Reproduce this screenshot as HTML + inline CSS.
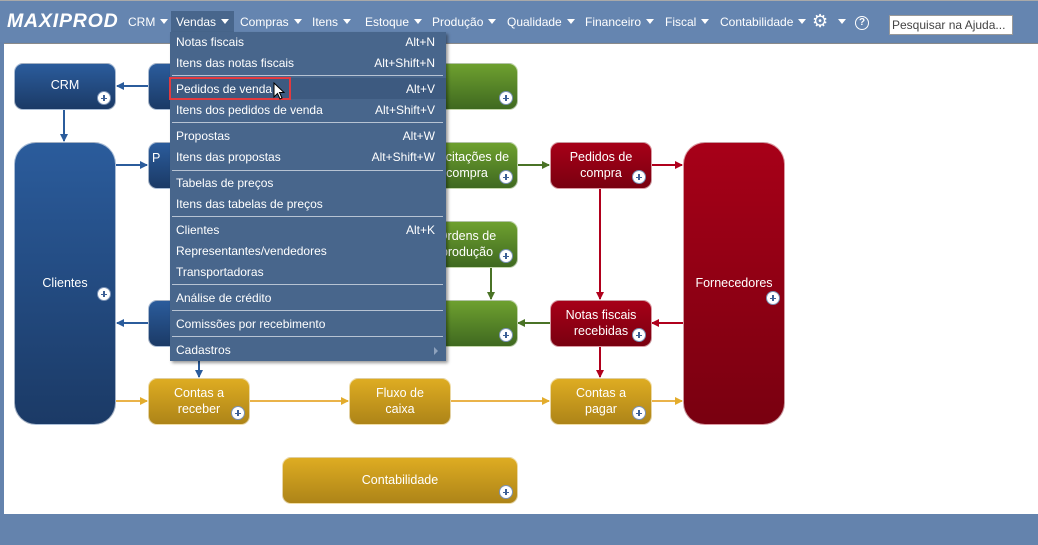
<!DOCTYPE html>
<html><head><meta charset="utf-8"><style>
*{margin:0;padding:0;box-sizing:border-box}
body{width:1038px;height:545px;background:#6483ad;position:relative;overflow:hidden;font-family:"Liberation Sans",sans-serif}
#top{position:absolute;left:0;top:0;width:1038px;height:42px;background:#6585b0;border-top:1px solid #a9a9a9}
#content{position:absolute;left:4px;top:43px;width:1034px;height:471px;background:#fff;border-top:1px solid #8a8a8a}
.logo{position:absolute;left:7px;top:9px;color:#fff;font:italic bold 19.5px "Liberation Sans",sans-serif;letter-spacing:0.8px}
.mi{position:absolute;top:14px;color:#fff;font-size:12px;white-space:nowrap}
.tri{display:inline-block;width:0;height:0;border-left:4px solid transparent;border-right:4px solid transparent;border-top:5px solid #fff;margin-left:5px;vertical-align:2px}
.vsel{position:absolute;left:171px;top:10px;width:63px;height:22px;background:#48668c}
.search{position:absolute;left:889px;top:14px;width:124px;height:20px;background:#fff;border:1px solid #999;font-size:12px;color:#444;padding:2px 2px}
.box{position:absolute;border-radius:9px;color:#fff;font-size:12.5px;text-align:center;line-height:16px;display:flex;align-items:center;justify-content:center;border:1px solid rgba(255,255,255,.6);padding-bottom:2px}
.b{background:linear-gradient(#2b5c9c,#1b3a66)}
.g{background:linear-gradient(#6ea02f,#3f6920)}
.r{background:linear-gradient(#a70018,#790010)}
.y{background:linear-gradient(#deac22,#ad8418)}
.p{position:absolute;width:14px;height:14px;border-radius:50%;background:#fff;border:1px solid #7b93b7}
.p:before{content:"";position:absolute;left:3px;top:5.5px;width:6px;height:1.6px;background:#3c5f95}
.p:after{content:"";position:absolute;left:5.2px;top:3px;width:1.6px;height:6px;background:#3c5f95}
#menu{position:absolute;left:170px;top:32px;width:276px;height:329px;background:#48668c;box-shadow:2px 2px 3px rgba(0,0,0,.4);font-size:12px;color:#fff}
.it{position:absolute;left:6px;white-space:nowrap;margin-top:-1px}
.sc{position:absolute;right:11px;white-space:nowrap;margin-top:-1px}
.sep{position:absolute;left:2px;width:271px;height:1px;background:#b7c3d3}
</style></head><body>
<div id="top">
<div class="logo">MAXIPROD</div>
<div class="vsel"></div>
<div class="mi" style="left:128px">CRM<span class="tri"></span></div>
<div class="mi" style="left:176px">Vendas<span class="tri"></span></div>
<div class="mi" style="left:240px">Compras<span class="tri"></span></div>
<div class="mi" style="left:312px">Itens<span class="tri"></span></div>
<div class="mi" style="left:365px">Estoque<span class="tri"></span></div>
<div class="mi" style="left:432px">Produção<span class="tri"></span></div>
<div class="mi" style="left:507px">Qualidade<span class="tri"></span></div>
<div class="mi" style="left:585px">Financeiro<span class="tri"></span></div>
<div class="mi" style="left:665px">Fiscal<span class="tri"></span></div>
<div class="mi" style="left:720px">Contabilidade<span class="tri"></span></div>
<div class="mi" style="left:812px;top:10px;font-size:18px">⚙</div>
<div class="mi" style="left:833px"><span class="tri"></span></div>
<div style="position:absolute;left:855px;top:15px;width:14px;height:14px;border:1.5px solid #fff;border-radius:50%;color:#fff;font-size:10px;font-weight:bold;text-align:center;line-height:11px">?</div>
<div class="search">Pesquisar na Ajuda...</div>
</div>
<div id="content"></div>
<svg style="position:absolute;left:0;top:0" width="1038" height="545">
<defs>
<marker id="ab" markerWidth="8" markerHeight="8" refX="7" refY="4" orient="auto" markerUnits="userSpaceOnUse"><path d="M0,0L8,4L0,8z" fill="#2b5c9c"/></marker>
<marker id="ag" markerWidth="8" markerHeight="8" refX="7" refY="4" orient="auto" markerUnits="userSpaceOnUse"><path d="M0,0L8,4L0,8z" fill="#4a7326"/></marker>
<marker id="ar" markerWidth="8" markerHeight="8" refX="7" refY="4" orient="auto" markerUnits="userSpaceOnUse"><path d="M0,0L8,4L0,8z" fill="#b0001c"/></marker>
<marker id="ay" markerWidth="8" markerHeight="8" refX="7" refY="4" orient="auto" markerUnits="userSpaceOnUse"><path d="M0,0L8,4L0,8z" fill="#e3ac2c"/></marker>
</defs>
<g stroke-width="2" fill="none">
<path d="M148,86H117" stroke="#2b5c9c" marker-end="url(#ab)"/>
<path d="M64,109V141" stroke="#2b5c9c" marker-end="url(#ab)"/>
<path d="M116,165H147" stroke="#2b5c9c" marker-end="url(#ab)"/>
<path d="M148,323H117" stroke="#2b5c9c" marker-end="url(#ab)"/>
<path d="M199,346V377" stroke="#2b5c9c" marker-end="url(#ab)"/>
<path d="M517,165H549" stroke="#4a7326" marker-end="url(#ag)"/>
<path d="M491,267V299" stroke="#4a7326" marker-end="url(#ag)"/>
<path d="M550,323H518" stroke="#4a7326" marker-end="url(#ag)"/>
<path d="M651,165H682" stroke="#b0001c" marker-end="url(#ar)"/>
<path d="M600,188V299" stroke="#b0001c" marker-end="url(#ar)"/>
<path d="M683,323H652" stroke="#b0001c" marker-end="url(#ar)"/>
<path d="M600,346V377" stroke="#b0001c" marker-end="url(#ar)"/>
<path d="M116,401H147" stroke="#eab34a" marker-end="url(#ay)"/>
<path d="M250,401H348" stroke="#eab34a" marker-end="url(#ay)"/>
<path d="M451,401H549" stroke="#eab34a" marker-end="url(#ay)"/>
<path d="M651,401H682" stroke="#eab34a" marker-end="url(#ay)"/>
</g></svg>
<div class="box b" style="left:14px;top:63px;width:102px;height:47px;padding-bottom:4px">CRM</div><div class="p" style="left:97px;top:91px"></div>
<div class="box b" style="left:148px;top:63px;width:102px;height:47px"></div>
<div class="box g" style="left:416px;top:63px;width:102px;height:47px"></div><div class="p" style="left:499px;top:91px"></div>
<div class="box b" style="left:14px;top:142px;width:102px;height:283px;border-radius:22px">Clientes</div><div class="p" style="left:97px;top:287px"></div>
<div class="box b" style="left:148px;top:142px;width:102px;height:47px;justify-content:flex-start;padding-left:3px;align-items:flex-start;padding-top:7px">P</div>
<div class="box g" style="left:416px;top:142px;width:102px;height:47px">Solicitações de<br>compra</div><div class="p" style="left:499px;top:170px"></div>
<div class="box r" style="left:550px;top:142px;width:102px;height:47px">Pedidos de<br>compra</div><div class="p" style="left:632px;top:170px"></div>
<div class="box r" style="left:683px;top:142px;width:102px;height:283px;border-radius:22px">Fornecedores</div><div class="p" style="left:766px;top:291px"></div>
<div class="box g" style="left:416px;top:221px;width:102px;height:47px">Ordens de<br>produção</div><div class="p" style="left:499px;top:249px"></div>
<div class="box b" style="left:148px;top:300px;width:102px;height:47px"></div>
<div class="box g" style="left:416px;top:300px;width:102px;height:47px"></div><div class="p" style="left:499px;top:328px"></div>
<div class="box r" style="left:550px;top:300px;width:102px;height:47px">Notas fiscais<br>recebidas</div><div class="p" style="left:632px;top:328px"></div>
<div class="box y" style="left:148px;top:378px;width:102px;height:47px">Contas a<br>receber</div><div class="p" style="left:231px;top:406px"></div>
<div class="box y" style="left:349px;top:378px;width:102px;height:47px">Fluxo de<br>caixa</div>
<div class="box y" style="left:550px;top:378px;width:102px;height:47px">Contas a<br>pagar</div><div class="p" style="left:632px;top:406px"></div>
<div class="box y" style="left:282px;top:457px;width:236px;height:47px">Contabilidade</div><div class="p" style="left:499px;top:485px"></div>
<div id="menu">
<div class="it" style="top:4px">Notas fiscais</div><div class="sc" style="top:4px">Alt+N</div>
<div class="it" style="top:25px">Itens das notas fiscais</div><div class="sc" style="top:25px">Alt+Shift+N</div>
<div class="sep" style="top:43px"></div>
<div style="position:absolute;left:0;top:46px;width:276px;height:21px;background:#3d5a80"></div>
<div class="it" style="top:51px">Pedidos de venda</div><div class="sc" style="top:51px">Alt+V</div>
<div class="it" style="top:72px">Itens dos pedidos de venda</div><div class="sc" style="top:72px">Alt+Shift+V</div>
<div class="sep" style="top:90px"></div>
<div class="it" style="top:98px">Propostas</div><div class="sc" style="top:98px">Alt+W</div>
<div class="it" style="top:119px">Itens das propostas</div><div class="sc" style="top:119px">Alt+Shift+W</div>
<div class="sep" style="top:138px"></div>
<div class="it" style="top:145px">Tabelas de preços</div>
<div class="it" style="top:166px">Itens das tabelas de preços</div>
<div class="sep" style="top:184px"></div>
<div class="it" style="top:192px">Clientes</div><div class="sc" style="top:192px">Alt+K</div>
<div class="it" style="top:213px">Representantes/vendedores</div>
<div class="it" style="top:234px">Transportadoras</div>
<div class="sep" style="top:252px"></div>
<div class="it" style="top:260px">Análise de crédito</div>
<div class="sep" style="top:278px"></div>
<div class="it" style="top:286px">Comissões por recebimento</div>
<div class="sep" style="top:304px"></div>
<div class="it" style="top:312px">Cadastros</div>
<div style="position:absolute;left:264px;top:315px;border-top:4px solid transparent;border-bottom:4px solid transparent;border-left:4px solid #8ea2bd"></div>
</div>
<div style="position:absolute;left:169px;top:77px;width:122px;height:23px;border:2px solid #e23a3f"></div>
<svg style="position:absolute;left:273px;top:82px" width="14" height="20"><path d="M1,1L1,15L4.5,11.5L7,17L9,16L6.5,10.5L11,10.5Z" fill="#fff" stroke="#000" stroke-width="1"/></svg>
</body></html>
